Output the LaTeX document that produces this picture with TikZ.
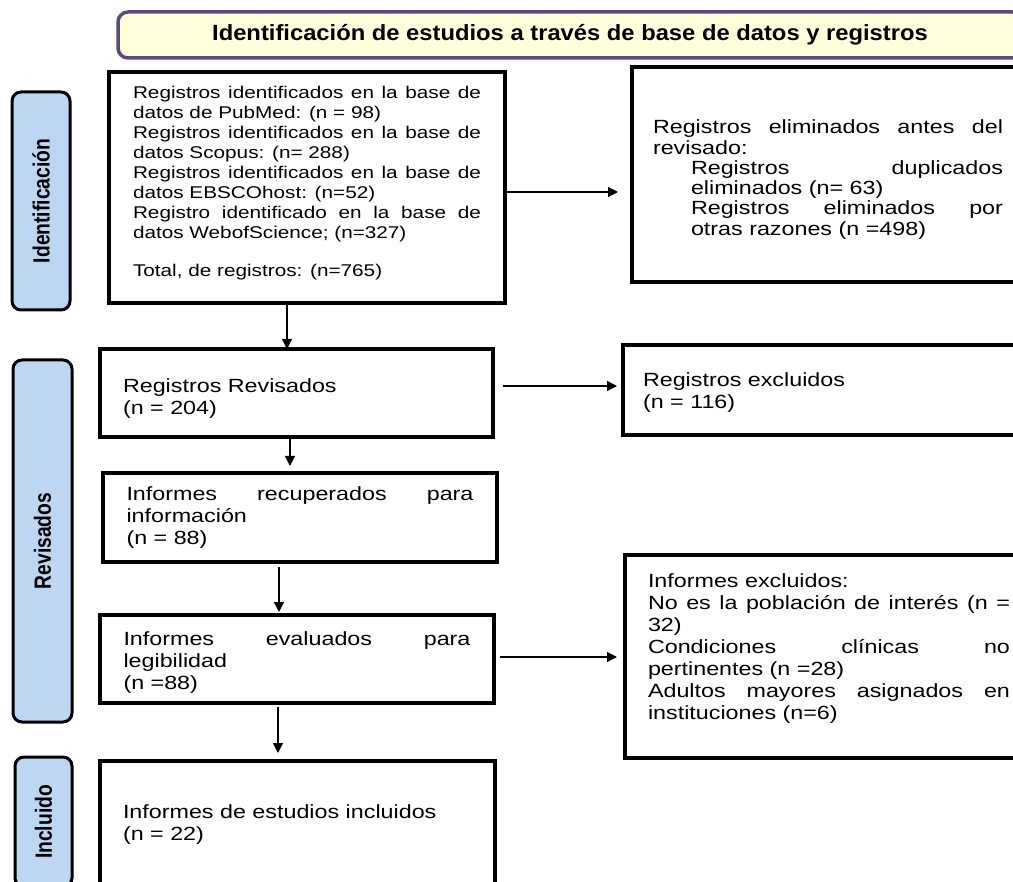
\documentclass[tikz,border=0pt]{standalone}
\usepackage{fontspec}
\usepackage{graphicx}
\setmainfont{Liberation Sans}[FakeStretch=1.22]
\newfontfamily\sidefont{Liberation Sans}[FakeStretch=0.82]
\newfontfamily\hdrfont{Liberation Sans}[FakeStretch=1.08]
\usetikzlibrary{arrows.meta,calc}
\definecolor{hdrfill}{HTML}{FFFFDC}
\definecolor{hdrdraw}{HTML}{5F497A}
\definecolor{sidefill}{HTML}{BDD7F2}
\setlength{\parindent}{0pt}
\newcommand{\topstrut}[1]{\rule{0pt}{#1}}
\newcommand{\botstrut}[1]{\rule[-#1]{0pt}{1pt}}
\tikzset{
  box/.style={draw=black, line width=3.2pt, fill=white, anchor=north west, outer sep=0pt,
    align=justify, inner ysep=0pt, font=\fontsize{19.1}{22}\selectfont},
  side/.style={draw=black, line width=3pt, rounded corners=9pt, fill=sidefill,
    anchor=north west, outer sep=0pt, inner sep=0pt,
    font=\sidefont\bfseries\fontsize{23.5}{26}\selectfont},
  hdr/.style={draw=hdrdraw, line width=3.5pt, rounded corners=10pt, fill=hdrfill,
    anchor=north west, outer sep=0pt, inner sep=0pt,
    font=\hdrfont\bfseries\fontsize{22}{24}\selectfont},
  arr/.style={line width=1.3pt, -{Triangle[length=10pt,width=10pt]}},
}
\begin{document}
\begin{tikzpicture}[x=1pt,y=-1pt]
\useasboundingbox (0,0) rectangle (1013,882);
\clip (0,0) rectangle (1013,882);
\fill[white] (0,0) rectangle (1013,882);

% header
\node[hdr, minimum width=904pt, minimum height=46pt] (hdr) at (118,12)
  {\raisebox{2pt}{Identificación de estudios a través de base de datos y registros}};

% side labels
\node[side, minimum width=58pt, minimum height=218pt] (sid1) at (12,92)
  {\rotatebox{90}{Identificación}};
\node[side, minimum width=59pt, minimum height=362pt] (sid2) at (13,360)
  {\rotatebox{90}{Revisados}};
\node[side, minimum width=57pt, minimum height=130pt] (sid3) at (15,757)
  {\rotatebox{90}{Incluido}};

% boxes
\node[box, line width=3.6pt, text width=348pt, inner xsep=24pt, minimum height=231pt,
  font=\fontsize{17}{20}\selectfont] (ident) at (109,72)
  {Registros identificados en la base de\linebreak datos de PubMed: (n = 98)\par
   Registros identificados en la base de\linebreak datos Scopus: (n= 288)\par
   Registros identificados en la base de\linebreak datos EBSCOhost: (n=52)\par
   Registro identificado en la base de\linebreak datos WebofScience; (n=327)\par
   \vspace{18pt}
   Total, de registros: (n=765)\botstrut{12pt}\par};

\node[box, text width=350pt, inner xsep=21pt, minimum height=215pt,
  font=\fontsize{19.1}{20.3}\selectfont] (elim) at (632,67)
  {\topstrut{24pt}Registros eliminados antes del\linebreak revisado:\par
   \leftskip=38pt
   Registros duplicados\linebreak eliminados (n= 63)\par
   Registros eliminados por\linebreak otras razones (n =498)\par};

\node[box, text width=347pt, inner xsep=23pt, minimum height=88pt] (rev) at (100,349)
  {\topstrut{24pt}Registros Revisados\par (n = 204)\par};

\node[box, text width=377pt, inner xsep=20pt, minimum height=90pt] (excl) at (623,345)
  {\topstrut{18pt}Registros excluidos\par (n = 116)\par};

\node[box, text width=347pt, inner xsep=23.5pt, minimum height=89pt] (recu) at (103,473)
  {Informes recuperados para\linebreak información\par (n = 88)\par};

\node[box, text width=347pt, inner xsep=23.5pt, minimum height=88pt] (eval) at (100,615)
  {\topstrut{20pt}Informes evaluados para\linebreak legibilidad\par (n =88)\par};

\node[box, text width=362pt, inner xsep=23pt, minimum height=203pt] (inex) at (625,555)
  {Informes excluidos:\par
   No es la población de interés (n =\linebreak 32)\par
   Condiciones clínicas no\linebreak pertinentes (n =28)\par
   Adultos mayores asignados en\linebreak instituciones (n=6)\botstrut{20pt}\par};

\node[box, text width=349pt, inner xsep=23pt, minimum height=140pt] (incl) at (100,761)
  {Informes de estudios incluidos\par (n = 22)\botstrut{17pt}\par};

% connectors
\coordinate (a0) at ([yshift=-4.5pt]ident.east);
\draw[arr, shorten >=14pt] (a0) -- (a0 -| elim.west);

\coordinate (a1) at ([xshift=-20pt]ident.south);
\draw[arr] (a1) -- (a1 |- rev.north);

\coordinate (a2) at ([yshift=7pt]rev.east);
\draw[arr, shorten <=10pt, shorten >=6pt] (a2) -- (a2 -| excl.west);

\coordinate (a3) at ([xshift=-6.5pt]rev.south);
\draw[arr, shorten >=7pt] (a3) -- (a3 |- recu.north);

\coordinate (a4) at ([xshift=-21pt]recu.south);
\draw[arr, shorten <=5pt, shorten >=3pt] (a4) -- (a4 |- eval.north);

\coordinate (a5) at ([yshift=2pt]eval.east);
\draw[arr, shorten <=6pt, shorten >=8pt] (a5) -- (a5 -| inex.west);

\coordinate (a6) at ([xshift=-19pt]eval.south);
\draw[arr, shorten <=4pt, shorten >=8pt] (a6) -- (a6 |- incl.north);
\end{tikzpicture}
\end{document}
